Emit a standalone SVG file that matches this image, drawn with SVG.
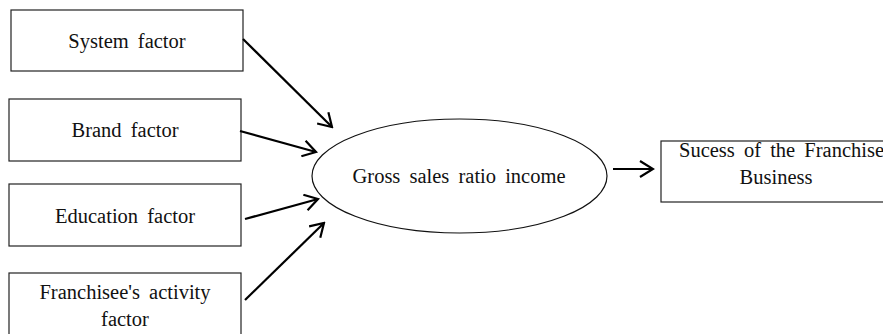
<svg xmlns="http://www.w3.org/2000/svg" width="883" height="334" viewBox="0 0 883 334">
<style>
.box{fill:#fff;stroke:#222;stroke-width:1.2}
.el{fill:#fff;stroke:#111;stroke-width:1.2}
text{font-family:"Liberation Serif","Times New Roman",serif;font-size:20.5px;fill:#111;word-spacing:4px}
.c{text-anchor:middle}
.con{stroke:#000;stroke-width:2.2;fill:none;marker-end:url(#ah)}
</style>
<defs>
<marker id="ah" viewBox="0 0 16 18" refX="14" refY="9" markerWidth="16" markerHeight="18" markerUnits="userSpaceOnUse" orient="auto">
<path d="M1,1 L14,9 L1,17" fill="none" stroke="#000" stroke-width="2.2"/>
</marker>
</defs>
<rect width="883" height="334" fill="#fff"/>
<g id="system">
<rect class="box" x="11" y="10" width="232" height="61"/>
<text class="c" x="127" y="48">System factor</text>
</g>
<g id="brand">
<rect class="box" x="9" y="99" width="232" height="62"/>
<text class="c" x="125" y="137">Brand factor</text>
</g>
<g id="education">
<rect class="box" x="9" y="184" width="232" height="62"/>
<text class="c" x="125" y="223">Education factor</text>
</g>
<g id="franchisee">
<rect class="box" x="9" y="273" width="232" height="64"/>
<text class="c" x="125" y="299">Franchisee's activity</text>
<text class="c" x="125" y="326">factor</text>
</g>
<g id="gross">
<ellipse class="el" cx="459.5" cy="176" rx="147.5" ry="57"/>
<text class="c" x="459" y="183">Gross sales ratio income</text>
</g>
<g id="success">
<rect class="box" x="661" y="141" width="230" height="61"/>
<text x="679" y="157">Sucess of the Franchise</text>
<text class="c" x="776" y="184">Business</text>
</g>
<g id="connectors">
<line class="con" x1="243" y1="39" x2="332" y2="127"/>
<line class="con" x1="240" y1="131" x2="316" y2="152"/>
<line class="con" x1="245" y1="219" x2="318" y2="199"/>
<line class="con" x1="245" y1="300" x2="324" y2="223"/>
<line class="con" x1="613" y1="169" x2="653" y2="169"/>
</g>
</svg>
